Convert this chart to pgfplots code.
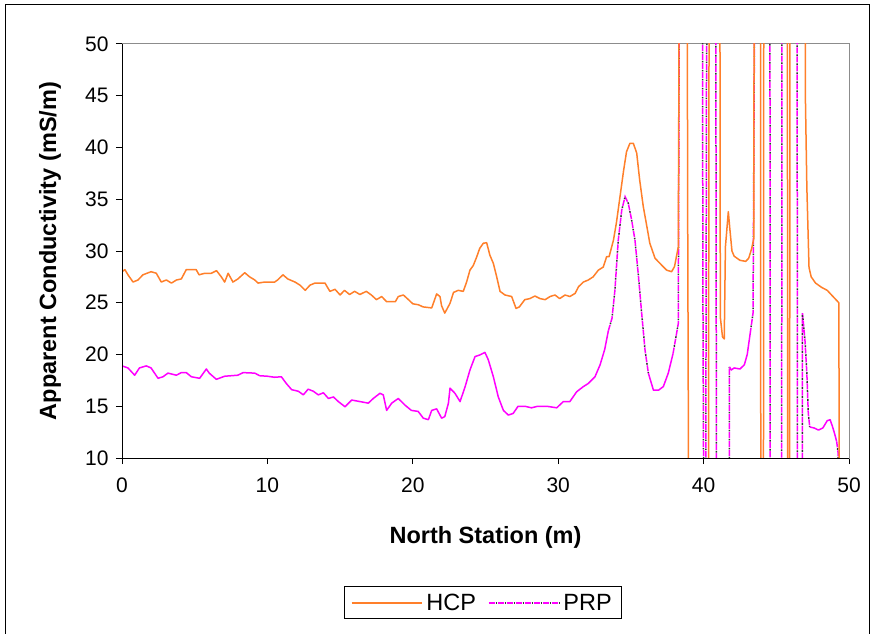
\documentclass[border=0pt]{standalone}
\usepackage{fontspec}
\setmainfont{Liberation Sans}
\usepackage{pgfplots}
\pgfplotsset{compat=1.18}
\definecolor{hcp}{HTML}{FF7F2A}
\definecolor{prp}{HTML}{FF00FF}
\definecolor{dotc}{HTML}{333333}
\definecolor{framegray}{HTML}{8C8C8C}
\tikzset{
  hcpline/.style={draw=hcp,line width=1.5pt,line join=round},
  prpsolid/.style={draw=prp,line width=1.5pt,line join=round},
  prpdash/.style={draw=prp,line width=1.5pt,dash pattern=on 6pt off 3pt,
    postaction={draw=dotc,line width=1.5pt,dash pattern=on 0pt off 6.8pt on 1.6pt off 0.6pt}},
}
\newcommand\tfont{\fontsize{21}{25}\selectfont}
\newcommand\gfont{\fontsize{23.5}{27}\selectfont}
\newcommand\lfont{\fontsize{23.5}{27}\selectfont\bfseries}

\begin{document}
\begin{tikzpicture}
\useasboundingbox (0,0) rectangle (874pt,633pt);
\draw[black,line width=1pt] (5pt,-5pt) -- (5pt,628pt) -- (869pt,628pt) -- (869pt,-5pt);
\begin{axis}[
  at={(122pt,175pt)}, anchor=south west, scale only axis,
  width=727pt, height=414pt,
  xmin=0, xmax=50, ymin=10, ymax=50,
  xtick={0,10,...,50}, ytick={10,15,...,50},
  tick align=outside, tick pos=left, major tick length=6pt,
  tick style={draw=black,line width=1pt},
  axis line style={draw=framegray,line width=1pt},
  /pgf/number format/assume math mode=true,
  tick label style={font=\tfont},
  xticklabel style={yshift=-10pt},
  yticklabel style={xshift=-4pt},
  xlabel={North Station (m)}, ylabel={Apparent Conductivity (mS/m)},
  label style={font=\lfont},
  xlabel style={at={(axis description cs:0.5,-0.193)},anchor=center},
  ylabel style={at={(axis description cs:-0.099,0.5)},anchor=center},
  no marks,
  legend columns=2,
  legend style={at={(0.497,-0.350)},anchor=center,draw=black,line width=1pt,
    font=\gfont,inner xsep=6pt,inner ysep=5pt,
    nodes={inner xsep=4pt},
    /tikz/every even column/.append style={column sep=8pt}},
  legend image code/.code={\draw[#1] (0pt,0pt) -- (70pt,0pt);},
]
\addlegendimage{hcpline}
\addlegendentry{HCP}
\addlegendimage{prpdash}
\addlegendentry{PRP}

% PRP (drawn first, under HCP)
\addplot[prpsolid,forget plot] coordinates {
(0,18.9)(0.41,18.7)(0.87,18.0)(1.2,18.7)(1.67,18.9)(2.0,18.7)(2.48,17.7)(2.82,17.85)(3.16,18.2)(3.74,18.0)
(4.08,18.25)(4.42,18.25)(4.77,17.85)(5.34,17.7)(5.8,18.6)(6.0,18.2)(6.49,17.6)(7.06,17.9)(7.97,18.0)(8.33,18.25)
(9.13,18.2)(9.47,17.95)(10.0,17.9)(10.5,17.8)(10.96,17.85)(11.3,17.2)(11.67,16.6)(12.13,16.45)(12.47,16.1)(12.8,16.65)
(13.16,16.45)(13.5,16.1)(13.85,16.3)(14.2,15.75)(14.54,15.9)(14.88,15.45)(15.34,14.95)(15.8,15.6)(16.37,15.45)(16.94,15.3)
(17.28,15.75)(17.74,16.25)(17.97,16.1)(18.2,14.6)(18.55,15.3)(19.0,15.75)(19.47,15.1)(19.9,14.6)(20.37,14.5)(20.72,13.85)
(21.07,13.7)(21.3,14.6)(21.64,14.75)(21.98,13.85)(22.2,14.0)(22.45,15.3)(22.56,16.75)(22.9,16.25)(23.25,15.45)(23.6,16.9)
(23.93,18.5)(24.28,19.8)(24.6,19.95)(24.96,20.2)(25.19,19.5)(25.54,17.85)(25.88,15.9)(26.23,14.6)(26.57,14.15)(26.9,14.3)
(27.24,15.0)(27.7,15.0)(28.16,14.85)(28.6,15.0)(29.2,15.0)(29.9,14.85)(30.35,15.45)(30.8,15.45)(31.27,16.4)(31.73,16.9)
(32.07,17.2)(32.53,17.85)(32.88,19.0)(33.2,20.5)(33.45,22.3)};
\addplot[prpdash,forget plot] coordinates {
(33.45,22.3)(33.7,23.5)(33.9,26.2)(34.13,31.05)(34.37,33.95)(34.6,35.25)(34.82,34.6)(35.05,33.0)(35.28,31.05)(35.5,27.85)
(35.74,24.0)(35.97,20.45)(36.2,18.2)};
\addplot[prpsolid,forget plot] coordinates {
(36.2,18.2)(36.55,16.55)(36.9,16.55)(37.23,16.9)(37.57,18.2)(37.9,20.1)};
\addplot[prpdash,forget plot] coordinates {
(37.9,20.1)(38.26,23.0)(38.38,80)(39.9,80)(39.95,26.9)(40.1,-30)(40.2,47.2)(40.4,80)(40.8,80)(40.85,42.4)
(40.92,-30)(41.7,-30)(41.78,18.8)};
\addplot[prpsolid,forget plot] coordinates {
(41.78,18.8)(41.9,18.5)(42.1,18.7)(42.5,18.6)(42.8,19.0)(43.0,20.0)(43.2,22.0)};
\addplot[prpdash,forget plot] coordinates {
(43.2,22.0)(43.4,24.0)(43.6,80)(44.55,80)(44.6,-30)(45.35,-30)(45.4,80)(46.42,80)(46.47,-30)(46.75,-30)
(46.8,24.0)(46.97,21.4)(47.1,18.2)(47.2,14.3)(47.3,13.0)};
\addplot[prpsolid,forget plot] coordinates {
(47.3,13.0)(47.6,12.9)(47.9,12.7)(48.2,12.9)(48.5,13.6)(48.7,13.7)(48.85,13.1)(49.0,12.4)(49.15,11.6)};
\addplot[prpdash,forget plot] coordinates {
(49.15,11.6)(49.25,10.5)(49.3,-30)};

% HCP
\addplot[hcpline,forget plot] coordinates {
(0,28.0)(0.2,28.2)(0.41,27.7)(0.76,27.0)(1.1,27.2)(1.44,27.7)(2.0,28.0)(2.36,27.85)(2.7,27.0)(3.05,27.2)
(3.4,26.9)(3.75,27.2)(4.08,27.3)(4.42,28.2)(5.1,28.2)(5.3,27.7)(5.7,27.85)(6.15,27.85)(6.5,28.1)(6.83,27.5)
(7.06,27.0)(7.3,27.85)(7.63,27.0)(7.97,27.3)(8.44,27.9)(8.78,27.5)(9.13,27.2)(9.36,26.9)(9.81,27.0)(10.5,27.0)
(10.7,27.2)(11.07,27.7)(11.4,27.3)(11.9,27.0)(12.24,26.7)(12.6,26.2)(12.93,26.7)(13.27,26.9)(13.96,26.9)(14.3,26.1)
(14.65,26.3)(15.0,25.75)(15.3,26.2)(15.65,25.8)(16.0,26.1)(16.36,25.8)(16.8,26.1)(17.15,25.75)(17.5,25.3)(17.86,25.6)
(18.2,25.1)(18.8,25.1)(19.0,25.6)(19.35,25.75)(19.7,25.3)(20.0,24.9)(20.4,24.8)(20.7,24.6)(21.3,24.5)(21.64,25.85)
(21.87,25.6)(21.98,24.7)(22.2,24.0)(22.56,24.95)(22.8,26.0)(23.13,26.2)(23.47,26.1)(23.7,27.0)(23.93,28.15)(24.16,28.6)
(24.4,29.45)(24.6,30.25)(24.85,30.75)(25.08,30.8)(25.3,29.6)(25.54,28.8)(25.77,27.5)(26.0,26.1)(26.34,25.75)(26.8,25.6)
(27.1,24.45)(27.33,24.6)(27.7,25.3)(28.05,25.4)(28.4,25.65)(28.75,25.4)(29.1,25.3)(29.44,25.6)(29.78,25.75)(30.1,25.4)
(30.47,25.75)(30.8,25.6)(31.16,25.9)(31.4,26.55)(31.73,27.0)(32.07,27.2)(32.4,27.5)(32.76,28.15)(33.1,28.45)(33.33,29.45)
(33.5,29.45)(33.8,31.05)(34.0,32.7)(34.25,35.25)(34.5,37.8)(34.7,39.6)(34.93,40.4)(35.17,40.4)(35.4,39.45)(35.6,36.9)
(35.85,34.3)(36.1,32.35)(36.3,30.75)(36.66,29.3)(37.0,28.8)(37.46,28.15)(37.8,28.0)(38.0,28.5)(38.26,30.4)(38.38,80)
(38.85,80)(38.9,35.7)(39.05,-30)(40.3,-30)(40.4,80)(41.1,80)(41.15,23.6)(41.3,21.7)(41.42,21.5)(41.5,30.4)
(41.7,33.8)(41.8,32.2)(41.95,30.0)(42.1,29.5)(42.5,29.1)(42.9,29.0)(43.1,29.3)(43.3,30.2)(43.45,31.2)(43.5,80)
(43.9,80)(43.95,-30)(44.1,-30)(44.15,80)(45.75,80)(45.8,-30)(45.9,-30)(45.95,80)(46.95,80)(47.0,44.9)
(47.1,36.2)(47.25,28.4)(47.4,27.5)(47.7,26.9)(48.1,26.5)(48.5,26.2)(48.9,25.6)(49.3,25.0)(49.4,-30)};

% black left and bottom axis lines
\draw[black,line width=1pt] (rel axis cs:0,1) -- (rel axis cs:0,0) -- (rel axis cs:1,0);
\end{axis}
\end{tikzpicture}
\end{document}
